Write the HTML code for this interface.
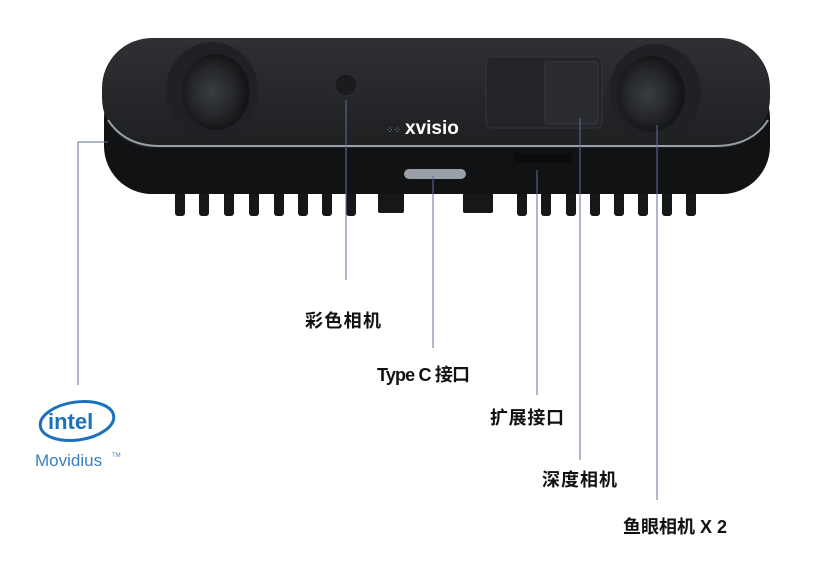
<!DOCTYPE html>
<html><head><meta charset="utf-8"><style>
body{margin:0;background:#fff;width:836px;height:569px;overflow:hidden}
text{font-family:"Liberation Sans","Noto Sans CJK SC",sans-serif}
</style></head><body>
<svg width="836" height="569" viewBox="0 0 836 569">
<defs>
<radialGradient id="ln" cx="0.45" cy="0.5" r="0.5"><stop offset="0" stop-color="#3a3d40"/><stop offset="0.6" stop-color="#26282b"/><stop offset="1" stop-color="#151617"/></radialGradient>
<linearGradient id="top" x1="0" y1="0" x2="0" y2="1"><stop offset="0" stop-color="#2e3033"/><stop offset="1" stop-color="#1e1f21"/></linearGradient>
</defs>
<g fill="#161718">
<rect x="175" y="185" width="10" height="31" rx="3"/><rect x="199" y="185" width="10" height="31" rx="3"/><rect x="224" y="185" width="10" height="31" rx="3"/><rect x="249" y="185" width="10" height="31" rx="3"/><rect x="274" y="185" width="10" height="31" rx="3"/><rect x="298" y="185" width="10" height="31" rx="3"/><rect x="322" y="185" width="10" height="31" rx="3"/><rect x="346" y="185" width="10" height="31" rx="3"/>
<rect x="378" y="185" width="26" height="28" rx="2"/><rect x="463" y="185" width="30" height="28" rx="2"/>
<rect x="517" y="185" width="10" height="31" rx="3"/><rect x="541" y="185" width="10" height="31" rx="3"/><rect x="566" y="185" width="10" height="31" rx="3"/><rect x="590" y="185" width="10" height="31" rx="3"/><rect x="614" y="185" width="10" height="31" rx="3"/><rect x="638" y="185" width="10" height="31" rx="3"/><rect x="662" y="185" width="10" height="31" rx="3"/><rect x="686" y="185" width="10" height="31" rx="3"/>
</g>
<rect x="104" y="70" width="666" height="124" rx="48" fill="#111213"/>
<rect x="102" y="38" width="668" height="110" rx="50" fill="url(#top)"/>
<path d="M108 120 Q125 146 160 146 L715 146 Q752 146 768 120" stroke="#9aa0a8" stroke-width="2" fill="none"/>
<ellipse cx="212" cy="90" rx="46" ry="48" fill="#202124"/>
<ellipse cx="216" cy="92" rx="34" ry="38" fill="url(#ln)"/>
<ellipse cx="655" cy="92" rx="46" ry="48" fill="#202124"/>
<ellipse cx="651" cy="94" rx="34" ry="38" fill="url(#ln)"/>
<circle cx="346" cy="85" r="11" fill="#1a1b1d" stroke="#2e3033"/>
<rect x="486" y="57" width="116" height="71" rx="6" fill="#232427" stroke="#34363a"/>
<rect x="545" y="62" width="53" height="62" rx="3" fill="#2a2b2e" stroke="#38393c"/>
<text x="405" y="134" fill="#fff" font-size="19" font-weight="bold">xvisio</text>
<text x="386" y="133" fill="#9aa" font-size="9">⁘⁘</text>
<rect x="404" y="169" width="62" height="10" rx="5" fill="#9aa0a8"/>
<rect x="514" y="153" width="58" height="10" fill="#0c0c0d"/>
<g stroke="#5f6f9c" stroke-width="1" fill="none">
<path d="M108 142 H78 V385"/>
<path d="M346 100 V280"/>
<path d="M433 176 V348"/>
<path d="M537 170 V395"/>
<path d="M580 118 V460"/>
<path d="M657 125 V500"/>
</g>
<g font-size="18" font-weight="bold" fill="#111">
<text x="305" y="327" textLength="76">彩色相机</text>
<text x="377" y="381" textLength="93">Type C 接口</text>
<text x="490" y="424" textLength="74">扩展接口</text>
<text x="542" y="486" textLength="75">深度相机</text>
<text x="623" y="533" textLength="104">鱼眼相机 X 2</text>
</g>
<ellipse cx="77" cy="421" rx="37" ry="19" fill="none" stroke="#1a71c0" stroke-width="3" transform="rotate(-8 77 421)"/>
<text x="48" y="429" fill="#1a71c0" font-size="22" font-weight="bold">intel</text>
<text x="35" y="466" fill="#3a7fc0" font-size="17">Movidius</text>
<text x="112" y="457" fill="#3a7fc0" font-size="6">TM</text>
</svg>
</body></html>
